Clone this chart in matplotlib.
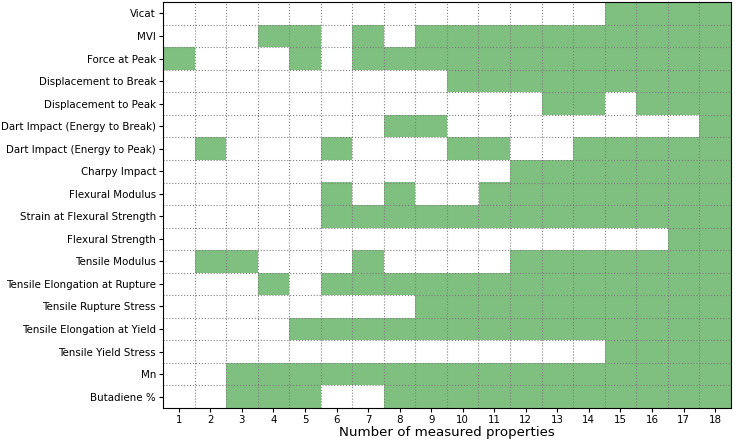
import numpy as np
import matplotlib
matplotlib.use("Agg")
import matplotlib.pyplot as plt
from matplotlib.colors import ListedColormap

properties = [
    "Vicat", "MVI", "Force at Peak", "Displacement to Break",
    "Displacement to Peak", "Dart Impact (Energy to Break)",
    "Dart Impact (Energy to Peak)", "Charpy Impact", "Flexural Modulus",
    "Strain at Flexural Strength", "Flexural Strength", "Tensile Modulus",
    "Tensile Elongation at Rupture", "Tensile Rupture Stress",
    "Tensile Elongation at Yield", "Tensile Yield Stress", "Mn", "Butadiene %",
]
n_measured = list(range(1, 19))

# 1 = property measured, one row per property, columns 1..18
measured = [
    [0, 0, 0, 0, 0, 0, 0, 0, 0, 0, 0, 0, 0, 0, 1, 1, 1, 1],
    [0, 0, 0, 1, 1, 0, 1, 0, 1, 1, 1, 1, 1, 1, 1, 1, 1, 1],
    [1, 0, 0, 0, 1, 0, 1, 1, 1, 1, 1, 1, 1, 1, 1, 1, 1, 1],
    [0, 0, 0, 0, 0, 0, 0, 0, 0, 1, 1, 1, 1, 1, 1, 1, 1, 1],
    [0, 0, 0, 0, 0, 0, 0, 0, 0, 0, 0, 0, 1, 1, 0, 1, 1, 1],
    [0, 0, 0, 0, 0, 0, 0, 1, 1, 0, 0, 0, 0, 0, 0, 0, 0, 1],
    [0, 1, 0, 0, 0, 1, 0, 0, 0, 1, 1, 0, 0, 1, 1, 1, 1, 1],
    [0, 0, 0, 0, 0, 0, 0, 0, 0, 0, 0, 1, 1, 1, 1, 1, 1, 1],
    [0, 0, 0, 0, 0, 1, 0, 1, 0, 0, 1, 1, 1, 1, 1, 1, 1, 1],
    [0, 0, 0, 0, 0, 1, 1, 1, 1, 1, 1, 1, 1, 1, 1, 1, 1, 1],
    [0, 0, 0, 0, 0, 0, 0, 0, 0, 0, 0, 0, 0, 0, 0, 0, 1, 1],
    [0, 1, 1, 0, 0, 0, 1, 0, 0, 0, 0, 1, 1, 1, 1, 1, 1, 1],
    [0, 0, 0, 1, 0, 1, 1, 1, 1, 1, 1, 1, 1, 1, 1, 1, 1, 1],
    [0, 0, 0, 0, 0, 0, 0, 0, 1, 1, 1, 1, 1, 1, 1, 1, 1, 1],
    [0, 0, 0, 0, 1, 1, 1, 1, 1, 1, 1, 1, 1, 1, 1, 1, 1, 1],
    [0, 0, 0, 0, 0, 0, 0, 0, 0, 0, 0, 0, 0, 0, 1, 1, 1, 1],
    [0, 0, 1, 1, 1, 1, 1, 1, 1, 1, 1, 1, 1, 1, 1, 1, 1, 1],
    [0, 0, 1, 1, 1, 0, 0, 1, 1, 1, 1, 1, 1, 1, 1, 1, 1, 1],
]

fig, ax = plt.subplots(figsize=(7.36, 4.4), dpi=100)
fig.subplots_adjust(left=0.2215, right=0.993, top=0.995, bottom=0.073)

cmap = ListedColormap(["white", "#7fbf7f"])
ax.imshow(np.array(measured), cmap=cmap, aspect="auto", interpolation="nearest",
          extent=(0.5, 18.5, len(properties) - 0.5, -0.5), vmin=0, vmax=1)

ax.set_xticks(n_measured)
ax.set_xticklabels([str(n) for n in n_measured], fontsize=7.4)
ax.set_yticks(range(len(properties)))
ax.set_yticklabels(properties, fontsize=7.4)
ax.set_xticks(np.arange(1.5, 18.5, 1), minor=True)
ax.set_yticks(np.arange(0.5, len(properties) - 0.5, 1), minor=True)
ax.tick_params(which="major", length=3, pad=2)
ax.tick_params(which="minor", length=0)
ax.grid(which="minor", color="gray", linestyle=":", linewidth=0.8)
ax.set_xlabel("Number of measured properties", fontsize=9.6, labelpad=1)

plt.savefig("out.png", dpi=100)
